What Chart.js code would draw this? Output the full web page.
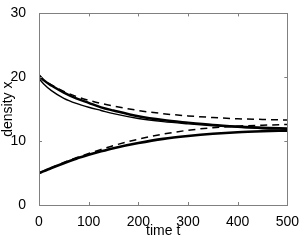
<!DOCTYPE html>
<html>
<head>
<meta charset="utf-8">
<script src="https://cdn.jsdelivr.net/npm/chart.js@4/dist/chart.umd.min.js"></script>
<style>
html,body{margin:0;padding:0;background:#fff;}
#wrap{width:300px;height:240px;}
</style>
</head>
<body>
<div id="wrap"><canvas id="c" width="300" height="240"></canvas></div>
<script>
const times = [0, 10, 25, 50, 75, 100, 125, 150, 200, 250, 300, 350, 400, 450, 500];
const upperDashed = [20.3, 19.5, 18.8, 17.8, 17.0, 16.4, 15.9, 15.5, 14.8, 14.3, 13.95, 13.7, 13.5, 13.4, 13.3];
const upperThick  = [20.3, 19.5, 18.7, 17.6, 16.7, 16.0, 15.3, 14.8, 13.9, 13.3, 12.9, 12.55, 12.3, 12.1, 12.0];
const upperThin   = [19.8, 18.9, 17.9, 16.7, 15.9, 15.3, 14.8, 14.3, 13.55, 13.05, 12.7, 12.4, 12.15, 11.95, 11.85];
const lowerDashed = [5.0, 5.35, 5.85, 6.65, 7.4, 8.05, 8.7, 9.3, 10.3, 11.1, 11.7, 12.1, 12.35, 12.5, 12.6];
const lowerSolid  = [5.0, 5.3, 5.8, 6.55, 7.25, 7.85, 8.4, 8.9, 9.7, 10.35, 10.8, 11.15, 11.4, 11.55, 11.65];
const xTicks = [0, 100, 200, 300, 400, 500];
const yTicks = [0, 10, 20, 30];

const pts = arr => arr.map((v, i) => ({x: times[i], y: v}));
const FONT = 'Liberation Sans, Arial, Helvetica, sans-serif';
const AX = '#808080';

const frame = {
  id: 'frame',
  afterDatasetsDraw(chart) {
    const {ctx, chartArea: a, scales: {x, y}} = chart;
    ctx.save();
    ctx.strokeStyle = AX;
    ctx.lineWidth = 1;
    ctx.strokeRect(Math.round(a.left) + 0.5, Math.round(a.top) + 0.5,
                   Math.round(a.right - a.left), Math.round(a.bottom - a.top));
    const L = 3;
    ctx.beginPath();
    xTicks.forEach(t => {
      const px = Math.round(x.getPixelForValue(t)) + 0.5;
      ctx.moveTo(px, a.bottom); ctx.lineTo(px, a.bottom - L);
      ctx.moveTo(px, a.top); ctx.lineTo(px, a.top + L);
    });
    yTicks.forEach(t => {
      const py = Math.round(y.getPixelForValue(t)) + 0.5;
      ctx.moveTo(a.left, py); ctx.lineTo(a.left + L, py);
      ctx.moveTo(a.right, py); ctx.lineTo(a.right - L, py);
    });
    ctx.stroke();
    ctx.restore();
  }
};

const ds = (data, w, dash) => ({
  data: pts(data), borderColor: '#000', borderWidth: w, borderDash: dash || [],
  pointRadius: 0, fill: false, cubicInterpolationMode: 'monotone'
});

new Chart(document.getElementById('c'), {
  type: 'line',
  data: {
    datasets: [
      ds(upperDashed, 1.5, [7, 5]),
      ds(upperThin, 1.4),
      ds(upperThick, 2.4),
      ds(lowerDashed, 1.5, [7, 5]),
      ds(lowerSolid, 2.6)
    ]
  },
  options: {
    responsive: false,
    animation: false,
    layout: {padding: {top: 8, right: 12, left: 0, bottom: 0}},
    plugins: {legend: {display: false}, tooltip: {enabled: false}},
    scales: {
      x: {
        type: 'linear', min: 0, max: 500,
        grid: {display: false}, border: {display: false},
        afterBuildTicks: s => { s.ticks = xTicks.map(v => ({value: v})); },
        afterFit: s => { s.height = 35; },
        ticks: {color: '#000', font: {family: FONT, size: 14}, padding: 1, maxRotation: 0},
        title: {display: true, text: 'time t', color: '#000', font: {family: FONT, size: 14}, padding: {top: 0, bottom: 0}}
      },
      y: {
        type: 'linear', min: 0, max: 30,
        grid: {display: false}, border: {display: false},
        afterBuildTicks: s => { s.ticks = yTicks.map(v => ({value: v})); },
        afterFit: s => { s.width = 39; },
        ticks: {color: '#000', font: {family: FONT, size: 14}, padding: 5},
        title: {display: true, text: 'density x', color: '#000', font: {family: FONT, size: 14}, padding: {top: 0, bottom: 0}}
      }
    }
  },
  plugins: [frame]
});
</script>
</body>
</html>
